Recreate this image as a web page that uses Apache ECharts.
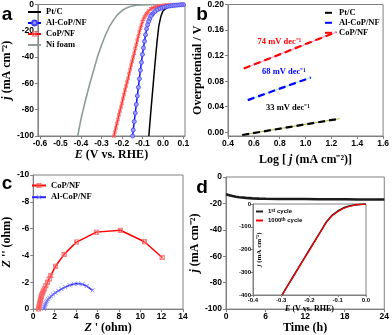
<!DOCTYPE html>
<html><head><meta charset="utf-8">
<script src="https://cdn.jsdelivr.net/npm/echarts@6/dist/echarts.min.js"></script>
<style>html,body{margin:0;padding:0;background:#fff}#c{width:392px;height:335px}</style>
</head><body><div id="c"></div>
<script>
// ---- Panel a: LSV (E in V vs RHE, j in mA cm-2)
const ptE = [0.1,0.08,0.06,0.04,0.02,0.01,0.0,-0.01,-0.02,-0.03,-0.04,-0.05,-0.06,-0.069];
const ptJ = [-0.2,-0.4,-0.8,-1.4,-2.5,-3.5,-5,-9,-16,-30,-47,-65,-83,-100];
const alE = [0.1,0.09,0.08,0.07,0.06,0.05,0.04,0.03,0.02,0.01,0.0,-0.01,-0.02,-0.03,-0.04,-0.05,-0.055,-0.06,-0.065,-0.07,-0.075,-0.08,-0.085,-0.09,-0.095,-0.1,-0.105,-0.11,-0.115,-0.12,-0.125,-0.13,-0.135,-0.14,-0.145,-0.148];
const alJ = [-0.1,-0.2,-0.3,-0.45,-0.6,-0.8,-1.0,-1.2,-1.5,-1.9,-2.3,-2.8,-3.3,-4.2,-5.5,-7,-8,-9,-11,-13,-15.5,-18.5,-23,-28,-33,-38,-44,-50,-56.5,-63,-69.5,-76,-82.5,-89,-95.5,-100];
const cpE = [0.1,0.09,0.08,0.07,0.06,0.05,0.04,0.03,0.02,0.01,0.0,-0.01,-0.02,-0.03,-0.04,-0.05,-0.06,-0.07,-0.075,-0.08,-0.085,-0.09,-0.095,-0.1,-0.105,-0.11,-0.115,-0.12,-0.125,-0.13,-0.135,-0.14,-0.145,-0.15,-0.155,-0.16,-0.165,-0.17,-0.175,-0.18,-0.185,-0.19,-0.195,-0.2,-0.205,-0.21,-0.215,-0.22,-0.225,-0.23,-0.235,-0.239];
const cpJ = [-0.05,-0.07,-0.1,-0.12,-0.15,-0.2,-0.3,-0.4,-0.5,-0.65,-0.8,-1.0,-1.2,-1.5,-2,-2.6,-3.5,-5,-6,-7,-8.2,-9.5,-11.2,-13,-15.5,-18,-21,-24,-27,-30.5,-33.5,-37,-40,-43,-46,-49.5,-52.5,-56,-59,-62,-65,-68.5,-71.5,-75,-78,-81,-84,-87.5,-90.5,-94,-97,-100];
const niE = [0.1,0.0,-0.06,-0.1,-0.13,-0.16,-0.18,-0.2,-0.22,-0.24,-0.26,-0.28,-0.3,-0.32,-0.34,-0.36,-0.38,-0.4,-0.416];
const niJ = [0,0,-0.1,-0.3,-0.6,-1.5,-2.8,-4.6,-7.5,-11.5,-16.5,-23,-31,-40,-51,-62,-74,-87,-100];
const aXTicks = [-0.6,-0.5,-0.4,-0.3,-0.2,-0.1,0.0,0.1];

// ---- Panel b: Tafel
const tPtX = [0.51,0.885,1.264];   const tPtY = [-0.0042,0.0086,0.0213];
const tAlX = [0.553,0.8,1.041];    const tAlY = [0.0504,0.0683,0.0857];
const tCpX = [0.522,0.88,1.239];   const tCpY = [0.0997,0.1283,0.157];
const bYTicks = [0,0.04,0.08,0.12,0.16,0.2];
const slopes = ['74 mV dec⁻¹','68 mV dec⁻¹','33 mV dec⁻¹'];

// ---- Panel c: Nyquist
const ncpX = [0.5,0.54,0.58,0.62,0.66,0.7,0.75,0.8,0.87,0.95,1.04,1.18,1.34,1.5,1.64,2.09,2.89,4.05,5.9,8.15,10.4,12.05];
const ncpY = [0,-0.15,-0.3,-0.45,-0.6,-0.75,-0.9,-1.05,-1.2,-1.35,-1.5,-1.75,-2.0,-2.25,-2.5,-3.2,-4.08,-5.0,-5.74,-5.88,-5.02,-3.85];
const nalX = [1.0,1.04,1.08,1.12,1.17,1.23,1.3,1.4,1.52,1.67,1.85,2.08,2.35,2.65,3.0,3.4,3.8,4.2,4.6,5.0,5.55];
const nalY = [-0.02,-0.12,-0.22,-0.32,-0.42,-0.52,-0.62,-0.73,-0.84,-0.96,-1.08,-1.22,-1.36,-1.5,-1.64,-1.78,-1.87,-1.9,-1.85,-1.72,-1.4];

// ---- Panel d: stability + inset
const dT = [0,0.5,1,1.5,2,3,4,5,6,8,10,12,14,16,18,20,22,24];
const dJ = [-13,-13.8,-14.4,-14.9,-15.3,-15.8,-16.2,-16.4,-16.5,-16.6,-16.7,-16.7,-16.8,-16.9,-16.9,-17.0,-17.0,-17.0];
const inE = [-0.297,-0.28,-0.26,-0.24,-0.22,-0.2,-0.18,-0.16,-0.14,-0.12,-0.1,-0.08,-0.06,-0.04,-0.02,0];
const in1J = [-400,-364,-323,-282,-241,-200,-160,-119,-78,-49,-31,-17,-9,-4,-1.5,-0.3];
const in1000J = [-400,-365,-325,-284,-243,-203,-162,-121,-80,-52,-34,-20,-11,-5,-2,-0.5];

const SANS = '"Liberation Sans", Arial, sans-serif';
const SERIF = '"Liberation Serif", "Times New Roman", serif';
const AX = '#808080';
const zip = (xs, ys) => xs.map((x, i) => [x, ys[i]]);
const XBOX = 'path://M0,0L10,0L10,10L0,10Z M1.5,1.5L1.5,8.5L8.5,8.5L8.5,1.5Z M1.5,2.6L2.6,1.5L8.5,7.4L7.4,8.5Z M7.4,1.5L8.5,2.6L2.6,8.5L1.5,7.4Z';
const XMARK = 'path://M0,1L1,0L5,4L9,0L10,1L6,5L10,9L9,10L5,6L1,10L0,9L4,5Z';

function nameStyle(size) {
  return {fontFamily: SERIF, fontWeight: 'bold', fontSize: size, color: '#000',
    rich: {i: {fontFamily: SERIF, fontWeight: 'bold', fontStyle: 'italic', fontSize: size, color: '#000'}}};
}
function axis(o) {
  const fs = o.fs || 8.5;
  const a = {
    type: 'value', gridIndex: o.g, min: o.min, max: o.max, inverse: !!o.inverse,
    axisLine: {show: true, onZero: false, lineStyle: {color: AX, width: 1}},
    axisTick: {show: true, inside: false, length: o.tl || 3, lineStyle: {color: AX}},
    splitLine: {show: false},
    axisLabel: {color: '#000', fontFamily: SANS, fontWeight: 'bold', fontSize: fs, margin: o.margin || 3},
    name: o.name, nameLocation: 'middle', nameGap: o.gap, nameTextStyle: nameStyle(o.nfs || 12)
  };
  if (o.interval != null) a.interval = o.interval;
  if (o.custom) { a.axisLabel.customValues = o.custom; a.axisTick.customValues = o.custom; }
  if (o.fmt) a.axisLabel.formatter = o.fmt;
  return a;
}
const f1 = v => v.toFixed(1);
const f2 = v => v.toFixed(2);

const legendText = (size, lh) => ({fontFamily: SERIF, fontWeight: 'bold', fontSize: size, color: '#000', lineHeight: lh});
const noSym = {opacity: 0};

const option = {
  animation: false,
  backgroundColor: '#fff',
  grid: [
    {left: 25, top: 4, width: 160, height: 132, show: true, borderColor: AX, borderWidth: 1},
    {left: 228, top: 4, width: 158, height: 132, show: true, borderColor: AX, borderWidth: 1},
    {left: 27, top: 175, width: 156, height: 135, show: true, borderColor: AX, borderWidth: 1},
    {left: 226, top: 177, width: 160, height: 136, show: true, borderColor: AX, borderWidth: 1},
    {left: 253, top: 204, width: 113, height: 91, show: true, borderColor: AX, borderWidth: 1, backgroundColor: '#fff', z: 5}
  ],
  xAxis: [
    axis({g: 0, min: -0.6103, max: 0.1076, custom: aXTicks, fmt: f1, name: '{i|E} (V vs. RHE)', gap: 12}),
    axis({g: 1, min: 0.4, max: 1.6, interval: 0.2, fmt: f1, name: 'Log [ {i|j} (mA cm⁻²)]', gap: 18}),
    axis({g: 2, min: 0, max: 14, interval: 2, name: "{i|Z} ' (ohm)", gap: 11}),
    axis({g: 3, min: 0, max: 24, interval: 6, name: 'Time (h)', gap: 8}),
    Object.assign(axis({g: 4, min: -0.4, max: 0, interval: 0.1, fmt: f1, fs: 6, margin: 2, tl: 2, name: '{i|E} (V vs. RHE)', gap: 10, nfs: 8}), {z: 6})
  ],
  yAxis: [
    axis({g: 0, min: -100, max: 0, interval: 20, name: '{i|j} (mA cm⁻²)', gap: 8, margin: 4}),
    axis({g: 1, min: -0.0058, max: 0.2, custom: bYTicks, fmt: f2, name: 'Overpotential / V', gap: 20, margin: 4}),
    axis({g: 2, min: -10, max: 0, interval: 2, inverse: true, name: "{i|Z} '' (ohm)", gap: 9, margin: 4}),
    axis({g: 3, min: -100, max: 0, interval: 20, name: '{i|j} (mA cm⁻²)', gap: 16, margin: 4}),
    Object.assign(axis({g: 4, min: -400, max: 0, interval: 100, fs: 6, margin: 2, tl: 2, name: '{i|j} (mA cm⁻²)', gap: -10, nfs: 7}), {z: 6})
  ],
  legend: [
    {data: [{name: 'Pt/C', itemStyle: noSym}, 'Al-CoP/NF', 'CoP/NF', {name: 'Ni foam', itemStyle: noSym}],
      orient: 'vertical', left: 27, top: 7.5, padding: 0,
      itemWidth: 13, itemHeight: 6, itemGap: 2, textStyle: legendText(8.5, 8)},
    {data: ['Pt/C ', 'Al-CoP/NF ', 'CoP/NF '], orient: 'vertical', left: 324, top: 8.3, padding: 0,
      itemStyle: noSym, itemWidth: 9, itemHeight: 6, itemGap: 1, textStyle: legendText(8.5, 8)},
    {data: ['CoP/NF  ', 'Al-CoP/NF  '], orient: 'vertical', left: 31, top: 181, padding: 0,
      itemWidth: 14, itemHeight: 6, itemGap: 2.7, textStyle: legendText(8.5, 8)},
    {data: ['1st cycle', '1000th cycle'], orient: 'vertical', left: 255, top: 208, padding: 0, z: 7,
      itemStyle: noSym, itemWidth: 7, itemHeight: 4, itemGap: 2,
      formatter: n => n === '1st cycle' ? '1{s|st} cycle' : '1000{s|th} cycle',
      textStyle: {fontFamily: SANS, fontWeight: 'bold', fontSize: 6, color: '#000', lineHeight: 7,
        rich: {s: {fontFamily: SANS, fontWeight: 'bold', fontSize: 4.5, verticalAlign: 'top', lineHeight: 7}}}}
  ],
  series: [
    // a
    {name: 'Ni foam', type: 'line', xAxisIndex: 0, yAxisIndex: 0, data: zip(niE, niJ), symbol: 'none',
      lineStyle: {color: '#8c9b9b', width: 1.6}, itemStyle: {color: '#8c9b9b'}},
    {name: 'CoP/NF', type: 'line', xAxisIndex: 0, yAxisIndex: 0, data: zip(cpE, cpJ), symbol: XBOX, symbolSize: 3.5,
      lineStyle: {color: '#ff0000', width: 1.4}, itemStyle: {color: '#ff5a5a'}},
    {name: 'Al-CoP/NF', type: 'line', xAxisIndex: 0, yAxisIndex: 0, data: zip(alE, alJ), symbol: 'circle', symbolSize: 4,
      lineStyle: {color: '#0000ff', width: 1.4}, itemStyle: {color: '#a0a0ff', borderColor: '#4040ff', borderWidth: 0.8}},
    {name: 'Pt/C', type: 'line', xAxisIndex: 0, yAxisIndex: 0, data: zip(ptE, ptJ), symbol: 'none',
      lineStyle: {color: '#000', width: 1.5}, itemStyle: {color: '#000'}},
    // b fit lines + dashed data
    {name: 'fitPt', type: 'line', xAxisIndex: 1, yAxisIndex: 1, data: zip(tPtX, tPtY), symbol: 'none', lineStyle: {color: '#9fbf3f', width: 1}},
    {name: 'fitAl', type: 'line', xAxisIndex: 1, yAxisIndex: 1, data: zip(tAlX, tAlY), symbol: 'none', lineStyle: {color: '#8fe8e0', width: 1}},
    {name: 'fitCp', type: 'line', xAxisIndex: 1, yAxisIndex: 1, data: zip(tCpX, tCpY), symbol: 'none', lineStyle: {color: '#ff88cc', width: 1}},
    {name: 'Pt/C ', type: 'line', xAxisIndex: 1, yAxisIndex: 1, data: zip(tPtX, tPtY), symbol: 'none',
      lineStyle: {color: '#000', width: 2.2, type: [7, 4]}, itemStyle: {color: '#000'}},
    {name: 'Al-CoP/NF ', type: 'line', xAxisIndex: 1, yAxisIndex: 1, data: zip(tAlX, tAlY), symbol: 'none',
      lineStyle: {color: '#0000ff', width: 2.2, type: [7, 4]}, itemStyle: {color: '#0000ff'}},
    {name: 'CoP/NF ', type: 'line', xAxisIndex: 1, yAxisIndex: 1, data: zip(tCpX, tCpY), symbol: 'none',
      lineStyle: {color: '#ff0000', width: 2.2, type: [7, 4]}, itemStyle: {color: '#ff0000'}},
    // c
    {name: 'CoP/NF  ', type: 'line', xAxisIndex: 2, yAxisIndex: 2, data: zip(ncpX, ncpY), symbol: XBOX, symbolSize: 5,
      lineStyle: {color: '#ff0000', width: 1.5}, itemStyle: {color: '#ff6060'}},
    {name: 'Al-CoP/NF  ', type: 'line', xAxisIndex: 2, yAxisIndex: 2, data: zip(nalX, nalY), symbol: XMARK, symbolSize: 4.5,
      lineStyle: {color: '#2a2aff', width: 1.5}, itemStyle: {color: '#7a7aff'}},
    // d
    {name: 'stability', type: 'line', xAxisIndex: 3, yAxisIndex: 3, data: zip(dT, dJ), symbol: 'none',
      lineStyle: {color: '#1a1a1a', width: 2.6}},
    {name: '1st cycle', type: 'line', xAxisIndex: 4, yAxisIndex: 4, data: zip(inE, in1J), symbol: 'none', z: 8,
      lineStyle: {color: '#222', width: 1.6}, itemStyle: {color: '#222'}},
    {name: '1000th cycle', type: 'line', xAxisIndex: 4, yAxisIndex: 4, data: zip(inE, in1000J), symbol: 'none', z: 9,
      lineStyle: {color: '#ff0000', width: 1.2}, itemStyle: {color: '#ff0000'}}
  ],
  graphic: [
    {type: 'text', x: 7, y: 15, style: {text: 'a', font: 'bold 19px "Liberation Sans", Arial', textAlign: 'center', textVerticalAlign: 'middle', fill: '#000'}},
    {type: 'text', x: 202, y: 15, style: {text: 'b', font: 'bold 19px "Liberation Sans", Arial', textAlign: 'center', textVerticalAlign: 'middle', fill: '#000'}},
    {type: 'text', x: 7, y: 184, style: {text: 'c', font: 'bold 19px "Liberation Sans", Arial', textAlign: 'center', textVerticalAlign: 'middle', fill: '#000'}},
    {type: 'text', x: 202, y: 188, style: {text: 'd', font: 'bold 19px "Liberation Sans", Arial', textAlign: 'center', textVerticalAlign: 'middle', fill: '#000'}},
    {type: 'text', x: 279.5, y: 42, style: {text: slopes[0], font: 'bold 8.5px "Liberation Serif", serif', textAlign: 'center', textVerticalAlign: 'middle', fill: '#ff0000'}},
    {type: 'text', x: 284, y: 72, style: {text: slopes[1], font: 'bold 8.5px "Liberation Serif", serif', textAlign: 'center', textVerticalAlign: 'middle', fill: '#0000ff'}},
    {type: 'text', x: 288, y: 108, style: {text: slopes[2], font: 'bold 8.5px "Liberation Serif", serif', textAlign: 'center', textVerticalAlign: 'middle', fill: '#000'}}
  ]
};
const chart = echarts.init(document.getElementById('c'), null, {renderer: 'canvas'});
chart.setOption(option);
</script></body></html>
